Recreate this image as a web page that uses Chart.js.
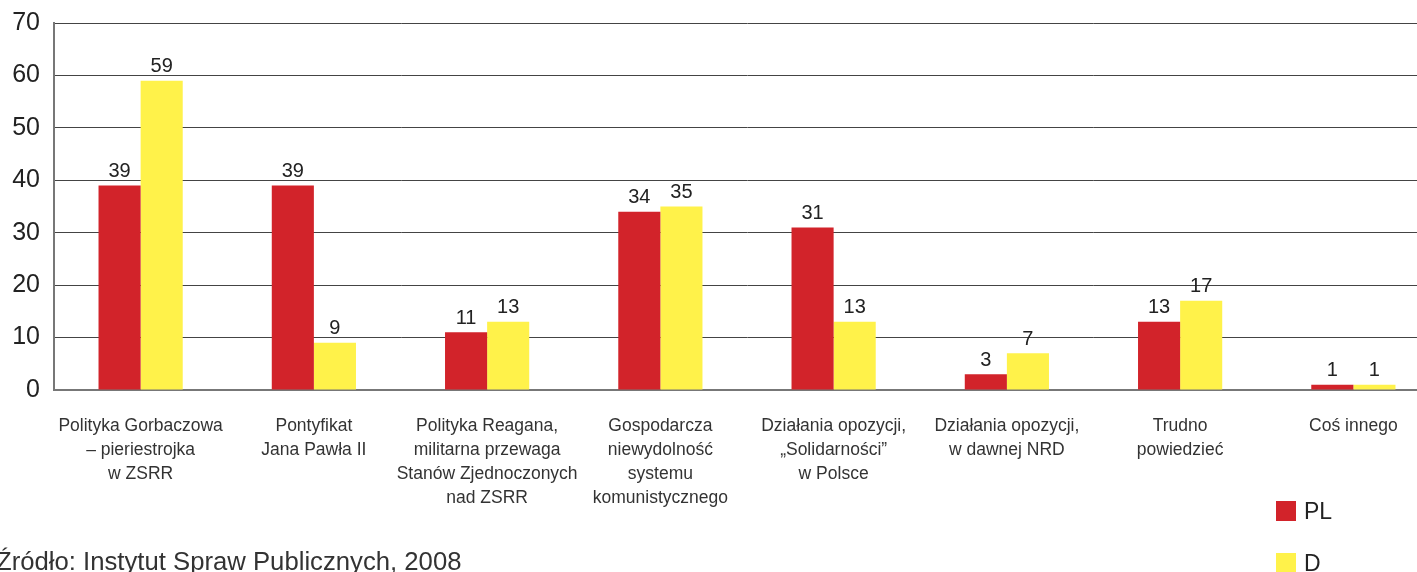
<!DOCTYPE html>
<html lang="pl">
<head>
  <meta charset="UTF-8">
  <title>PL / D</title>
  <script src="https://cdn.jsdelivr.net/npm/chart.js"></script>
  <style>
    body { margin: 0; background: #fff; font-family: "Liberation Sans", Arial, sans-serif; }
    .wrap { position: relative; width: 1417px; height: 572px; overflow: hidden; }
    .legend { position: absolute; left: 1276px; font-size: 23px; color: #222; }
    .legend span { display: inline-block; width: 20px; height: 20px; vertical-align: -2px; margin-right: 8px; }
    .source { position: absolute; left: -4px; top: 547px; font-size: 25.7px; color: #333; white-space: nowrap; }
  </style>
</head>
<body>
  <div class="wrap">
    <canvas id="chart" width="1440" height="572"></canvas>
    <div class="legend" style="top:498px"><span style="background:#d2232a"></span>PL</div>
    <div class="legend" style="top:550px"><span style="background:#fff24a"></span>D</div>
    <div class="source">Źródło: Instytut Spraw Publicznych, 2008</div>
  </div>

  <script>
    const categories = [
      ["Polityka Gorbaczowa", "– pieriestrojka", "w ZSRR"],
      ["Pontyfikat", "Jana Pawła II"],
      ["Polityka Reagana,", "militarna przewaga", "Stanów Zjednoczonych", "nad ZSRR"],
      ["Gospodarcza", "niewydolność", "systemu", "komunistycznego"],
      ["Działania opozycji,", "„Solidarności”", "w Polsce"],
      ["Działania opozycji,", "w dawnej NRD"],
      ["Trudno", "powiedzieć"],
      ["Coś innego"]
    ];
    const plValues = [39, 39, 11, 34, 31, 3, 13, 1];
    const dValues = [59, 9, 13, 35, 13, 7, 17, 1];
    const yTicks = [0, 10, 20, 30, 40, 50, 60, 70];

    const valueLabels = {
      id: 'valueLabels',
      afterDatasetsDraw(chart) {
        const ctx = chart.ctx;
        ctx.save();
        ctx.font = '20px "Liberation Sans", Arial, sans-serif';
        ctx.fillStyle = '#222';
        ctx.textAlign = 'center';
        ctx.textBaseline = 'bottom';
        chart.data.datasets.forEach((ds, i) => {
          chart.getDatasetMeta(i).data.forEach((bar, j) => {
            ctx.fillText(ds.data[j], bar.x, bar.y - 4);
          });
        });
        ctx.restore();
      }
    };

    new Chart(document.getElementById('chart'), {
      type: 'bar',
      data: {
        labels: categories,
        datasets: [
          { label: 'PL', data: plValues, backgroundColor: '#d2232a' },
          { label: 'D', data: dValues, backgroundColor: '#fff24a' }
        ]
      },
      options: {
        responsive: false,
        animation: false,
        layout: { padding: { top: 23, right: 0, left: 0, bottom: 0 } },
        categoryPercentage: 0.486,
        barPercentage: 1,
        plugins: { legend: { display: false }, tooltip: { enabled: false } },
        scales: {
          x: {
            grid: { display: false, drawTicks: false },
            border: { color: '#777', width: 2 },
            ticks: {
              color: '#333',
              padding: 24,
              maxRotation: 0,
              autoSkip: false,
              font: { size: 17.5, family: '"Liberation Sans", Arial, sans-serif', lineHeight: 1.37 }
            },
            afterFit(scale) { scale.height = 182; }
          },
          y: {
            min: 0,
            max: 70,
            afterBuildTicks(scale) { scale.ticks = yTicks.map(v => ({ value: v })); },
            grid: { color: '#444', lineWidth: 1, drawTicks: false },
            border: { color: '#777', width: 2 },
            ticks: {
              color: '#222',
              padding: 14,
              font: { size: 25, family: '"Liberation Sans", Arial, sans-serif' }
            },
            afterFit(scale) {
              scale.width = 54;
              scale.paddingTop = 0;
              scale.paddingBottom = 0;
            }
          }
        }
      },
      plugins: [valueLabels]
    });
  </script>
</body>
</html>
